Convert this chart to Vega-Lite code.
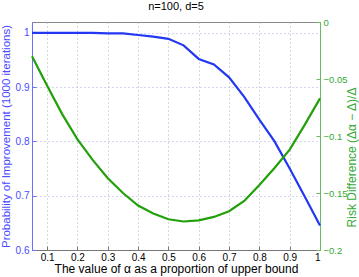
{
  "$schema": "https://vega.github.io/schema/vega-lite/v6.json",
  "width": 288,
  "height": 228,
  "autosize": {"type": "none"},
  "padding": {"left": 32, "top": 22, "right": 39, "bottom": 27},
  "background": "white",
  "title": {"text": "n=100, d=5", "font": "Liberation Sans", "fontSize": 11, "fontWeight": "normal", "color": "#000000", "offset": 5},
  "config": {
    "font": "Liberation Sans",
    "view": {"stroke": "#888888", "strokeWidth": 1},
    "axis": {"labelFont": "Liberation Sans", "titleFont": "Liberation Sans", "labelFontSize": 10, "titleFontSize": 11, "titleFontWeight": "normal", "gridDash": [1, 3], "gridColor": "#b0b0b0", "gridOpacity": 1}
  },
  "data": {"values": [
    {"x": 0.05, "prob": 1.0, "risk": -0.030},
    {"x": 0.10, "prob": 1.0, "risk": -0.056},
    {"x": 0.15, "prob": 1.0, "risk": -0.081},
    {"x": 0.20, "prob": 1.0, "risk": -0.103},
    {"x": 0.25, "prob": 1.0, "risk": -0.121},
    {"x": 0.30, "prob": 0.999, "risk": -0.137},
    {"x": 0.35, "prob": 0.999, "risk": -0.150},
    {"x": 0.40, "prob": 0.996, "risk": -0.161},
    {"x": 0.45, "prob": 0.993, "risk": -0.168},
    {"x": 0.50, "prob": 0.989, "risk": -0.173},
    {"x": 0.55, "prob": 0.977, "risk": -0.175},
    {"x": 0.60, "prob": 0.952, "risk": -0.174},
    {"x": 0.65, "prob": 0.942, "risk": -0.171},
    {"x": 0.70, "prob": 0.918, "risk": -0.166},
    {"x": 0.75, "prob": 0.882, "risk": -0.157},
    {"x": 0.80, "prob": 0.840, "risk": -0.143},
    {"x": 0.85, "prob": 0.800, "risk": -0.128},
    {"x": 0.90, "prob": 0.750, "risk": -0.112},
    {"x": 0.95, "prob": 0.698, "risk": -0.090},
    {"x": 1.00, "prob": 0.645, "risk": -0.067}
  ]},
  "encoding": {
    "x": {"field": "x", "type": "quantitative",
      "scale": {"domain": [0.05, 1], "nice": false, "zero": false},
      "axis": {"title": "The value of α as a proportion of upper bound", "values": [0.1,0.2,0.3,0.4,0.5,0.6,0.7,0.8,0.9,1], "format": "~g",
        "domainColor": "#777777", "tickColor": "#777777", "tickSize": -4, "labelPadding": 6, "labelColor": "#000000", "titleColor": "#000000", "titlePadding": 1, "grid": true, "labelFontSize": 10, "titleFontSize": 12}}
  },
  "layer": [
    {
      "mark": {"type": "line", "color": "#2338f2", "strokeWidth": 2.2},
      "encoding": {
        "y": {"field": "prob", "type": "quantitative",
          "scale": {"domain": [0.6, 1.02], "nice": false, "zero": false},
          "axis": {"title": "Probability of Improvement (1000 iterations)", "orient": "left", "values": [0.6,0.7,0.8,0.9,1], "format": "~g",
            "domainColor": "#6f6fff", "tickColor": "#6f6fff", "tickSize": -4, "labelPadding": 7, "labelColor": "#4a4aff", "titleColor": "#4a4aff", "titlePadding": 4, "titleFontSize": 11.5, "grid": true, "gridColor": "#a8a8e8"}}
      }
    },
    {
      "mark": {"type": "line", "color": "#22a00a", "strokeWidth": 2.2},
      "encoding": {
        "y": {"field": "risk", "type": "quantitative",
          "scale": {"domain": [-0.2, 0], "nice": false, "zero": false},
          "axis": {"title": "Risk Difference (Δα − Δ)/Δ", "orient": "right", "values": [-0.2,-0.15,-0.1,-0.05,0], "format": "~g",
            "domainColor": "#66bb66", "tickColor": "#66bb66", "tickSize": -4, "labelPadding": 7, "labelFontSize": 9.5, "labelColor": "#33aa33", "titleColor": "#33aa33", "titleFontSize": 12, "titleAngle": 270, "titleX": 31, "titleY": 135, "titleAlign": "center", "titleBaseline": "middle", "grid": false}}
      }
    }
  ],
  "resolve": {"scale": {"y": "independent"}}
}
